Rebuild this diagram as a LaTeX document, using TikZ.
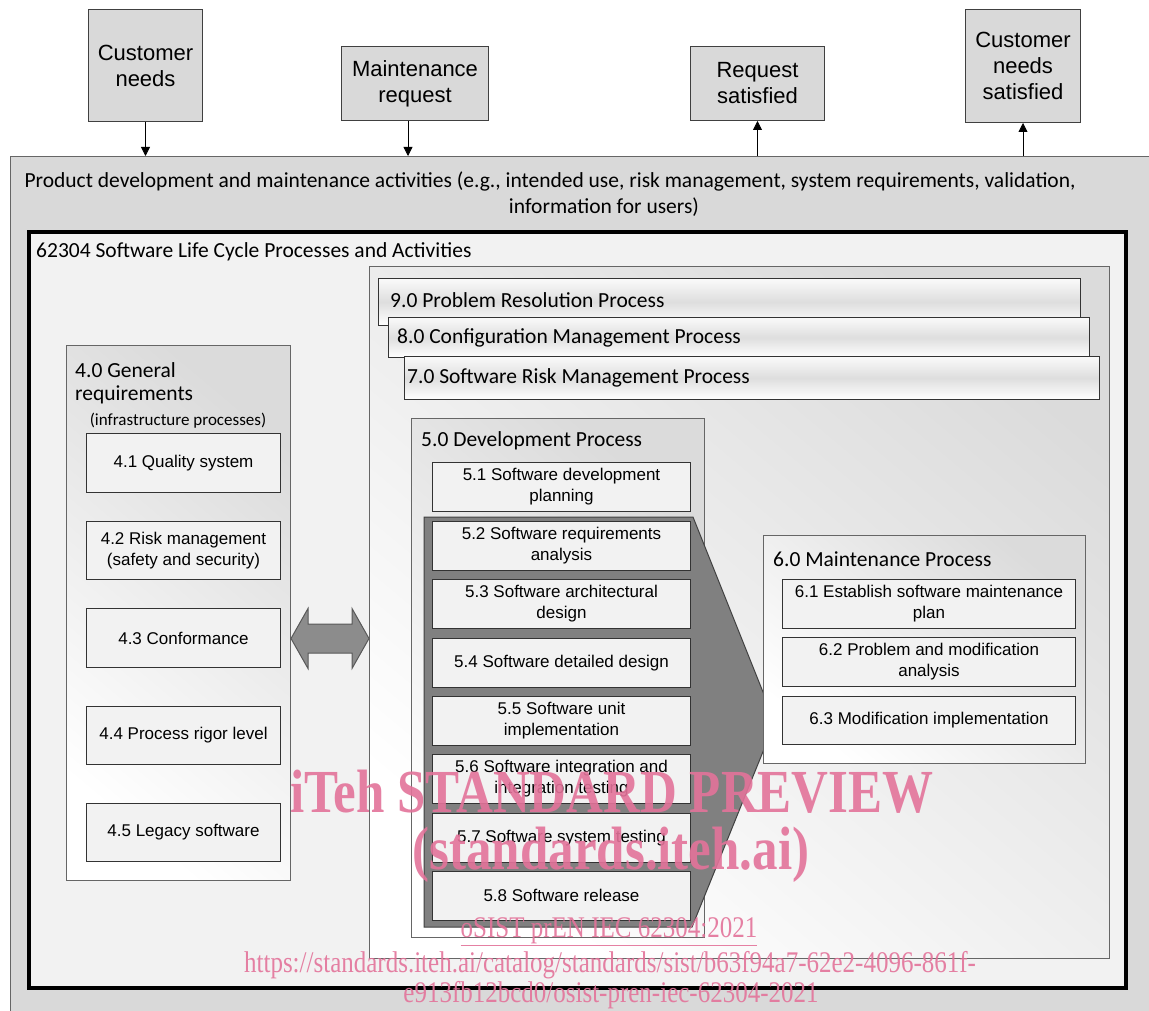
\documentclass[tikz,border=0pt]{standalone}
\usepackage{fontspec}
\usepackage{graphicx}
\usetikzlibrary{arrows.meta}
\newfontfamily\arialfont{Liberation Sans}
\newfontfamily\calibrifont{Carlito}
\newfontfamily\timesfont{Liberation Serif}
\definecolor{wmpink}{HTML}{E3739A}
\newcommand\wmtall[1]{\scalebox{1}[1.2]{#1}}
\tikzstyle{ext}=[draw=black!75,fill=black!15,line width=1pt,inner sep=0pt,align=center,font=\arialfont\fontsize{22}{26}\selectfont]
\tikzstyle{flow}=[line width=.8pt,-{Triangle[length=9pt,width=9pt]}]
\tikzstyle{frame}=[draw=black!60,line width=1pt,inner sep=0pt]
\tikzstyle{procbox}=[frame,top color=black!14,bottom color=white,shading angle=-40]
\tikzstyle{bar}=[frame,draw=black!80,top color=black!2,bottom color=white,middle color=black!13]
\tikzstyle{item}=[draw=black!80,fill=black!5,line width=1pt,inner sep=0pt,align=center,font=\arialfont\fontsize{17}{21}\selectfont]
\tikzstyle{head}=[inner sep=0pt,align=left,font=\calibrifont\fontsize{21.5}{23.5}\selectfont]
\tikzstyle{chev}=[draw=black!75,fill=black!50,line width=1pt]
\tikzstyle{biarrow}=[draw=black!65,fill=black!45,line width=1pt]
\tikzstyle{wmark}=[inner sep=0pt,text=wmpink,opacity=.9,font=\timesfont]

\begin{document}
\begin{tikzpicture}[x=1pt,y=-1pt]
	\useasboundingbox (0,0) rectangle (1149,1011);
	\clip (0,0) rectangle (1149,1011);
	% outer activities
	\node[frame,fill=black!15,minimum width=1160pt,minimum height=880pt,anchor=north west] (outer) at (10,156) {};
	\node[head,align=center,font=\calibrifont\fontsize{21.5}{26}\selectfont] (tprod) at (550,194) {Product development and maintenance activities (e.g., intended use, risk management, system requirements, validation,\\\hspace*{108pt}information for users)};
	% inputs and outputs
	\node[ext,minimum width=114pt,minimum height=112pt,anchor=north west] (needs) at (88,9) {Customer\\needs};
	\node[ext,minimum width=147pt,minimum height=74pt,anchor=north west] (mreq) at (341,46) {Maintenance\\request};
	\node[ext,minimum width=134pt,minimum height=74pt,anchor=north west] (rsat) at (690,46) {Request\\satisfied};
	\node[ext,minimum width=115pt,minimum height=113pt,anchor=north west] (nsat) at (965,9) {Customer\\needs\\satisfied};
	\coordinate (mreqout) at ([xshift=-7pt]mreq.south);
	\draw[flow] (needs.south) -- (needs.south |- outer.north);
	\draw[flow] (mreqout) -- (mreqout |- outer.north);
	\draw[flow] (rsat.south |- outer.north) -- (rsat.south);
	\draw[flow] (nsat.south |- outer.north) -- (nsat.south);
	% 62304 frame
	\node[draw=black,line width=4pt,fill=black!5,inner sep=0pt,minimum width=1097pt,minimum height=756pt,anchor=north west] (lcbox) at (27,230) {};
	\node[head,anchor=west] (t62304) at (36,252) {62304 Software Life Cycle Processes and Activities};
	\node[procbox,minimum width=740pt,minimum height=692pt,anchor=north west] (rpanel) at (369,266) {};
	% supporting processes
	\node[bar,minimum width=702pt,minimum height=47pt,anchor=north west] (p90) at (378,278) {};
	\node[head,anchor=west] (t90) at (390,300) {9.0 Problem Resolution Process};
	\node[bar,minimum width=701pt,minimum height=40pt,anchor=north west] (p80) at (388,317) {};
	\node[head,anchor=west] (t80) at (397,338) {8.0 Configuration Management Process};
	\node[bar,minimum width=695pt,minimum height=43pt,anchor=north west] (p70) at (404,356) {};
	\node[head,anchor=west] (t70) at (407,378) {7.0 Software Risk Management Process};
	% development
	\node[procbox,minimum width=293pt,minimum height=519pt,anchor=north west] (p50) at (411,418) {};
	\node[head,anchor=west] (t50) at (421,441) {5.0 Development Process};
	\draw[chev] (424,517) -- (693,517) -- (775,722) -- (692,927) -- (424,927) -- cycle;
	\node[item,minimum width=258pt,minimum height=49pt,anchor=north west] (s51) at (432,462) {5.1 Software development\\planning};
	\node[item,minimum width=258pt,minimum height=48.5pt,anchor=north west] (s52) at (432,521) {5.2 Software requirements\\analysis};
	\node[item,minimum width=258pt,minimum height=48.5pt,anchor=north west] (s53) at (432,579) {5.3 Software architectural\\design};
	\node[item,minimum width=258pt,minimum height=48.5pt,anchor=north west] (s54) at (432,638) {5.4 Software detailed design};
	\node[item,minimum width=258pt,minimum height=48.5pt,anchor=north west] (s55) at (432,696) {5.5 Software unit\\implementation};
	\node[item,minimum width=258pt,minimum height=48.5pt,anchor=north west] (s56) at (432,754) {5.6 Software integration and\\integration testing};
	\node[item,minimum width=258pt,minimum height=48.5pt,anchor=north west] (s57) at (432,813) {5.7 Software system testing};
	\node[item,minimum width=258pt,minimum height=48.5pt,anchor=north west] (s58) at (432,871) {5.8 Software release};
	% maintenance
	\node[procbox,minimum width=322pt,minimum height=228pt,anchor=north west] (p60) at (763,535) {};
	\node[head,anchor=west] (t60) at (773,559) {6.0 Maintenance Process};
	\node[item,minimum width=293pt,minimum height=49pt,anchor=north west] (s61) at (782,579) {6.1 Establish software maintenance\\plan};
	\node[item,minimum width=293pt,minimum height=49pt,anchor=north west] (s62) at (782,637) {6.2 Problem and modification\\analysis};
	\node[item,minimum width=293pt,minimum height=48pt,anchor=north west] (s63) at (782,696) {6.3 Modification implementation};
	% general requirements
	\node[procbox,minimum width=224pt,minimum height=535pt,anchor=north west] (g40) at (66,345) {};
	\node[head,anchor=north west] (t40) at (75,362) {4.0 General\\requirements};
	\node[inner sep=0pt,font=\calibrifont\fontsize{17}{20}\selectfont] (tinfra) at (178,421) {(infrastructure processes)};
	\node[item,minimum width=194pt,minimum height=59pt,anchor=north west] (g41) at (86,433) {4.1 Quality system};
	\node[item,minimum width=194pt,minimum height=58pt,anchor=north west] (g42) at (86,521) {4.2 Risk management\\(safety and security)};
	\node[item,minimum width=194pt,minimum height=59pt,anchor=north west] (g43) at (86,608) {4.3 Conformance};
	\node[item,minimum width=194pt,minimum height=58pt,anchor=north west] (g44) at (86,706) {4.4 Process rigor level};
	\node[item,minimum width=194pt,minimum height=58pt,anchor=north west] (g45) at (86,803) {4.5 Legacy software};
	\coordinate (biL) at ([yshift=-25.5pt]g40.east);
	\draw[biarrow] (biL) -- ++(17,-30) -- ++(0,15.5) -- ++(44,0) -- ++(0,-15.5) -- ++(17,30) -- ++(-17,30) -- ++(0,-15.5) -- ++(-44,0) -- ++(0,15.5) -- cycle;
	% watermark
	\node[wmark,font=\timesfont\bfseries\fontsize{51}{51}\selectfont] (wm1) at (612,792) {\wmtall{iTeh STANDARD PREVIEW}};
	\node[wmark,font=\timesfont\bfseries\fontsize{51}{51}\selectfont] (wm2) at (611,855) {\wmtall{(standards.iteh.ai)}};
	\node[wmark,font=\timesfont\fontsize{25}{25}\selectfont] (wm3) at (609,932) {\wmtall{\underline{oSIST prEN IEC 62304:2021}}};
	\node[wmark,font=\timesfont\fontsize{25}{25}\selectfont] (wm4) at (610,965) {\wmtall{https://standards.iteh.ai/catalog/standards/sist/b63f94a7-62e2-4096-861f-}};
	\node[wmark,font=\timesfont\fontsize{25}{25}\selectfont] (wm5) at (611,995) {\wmtall{e913fb12bcd0/osist-pren-iec-62304-2021}};
\end{tikzpicture}
\end{document}
